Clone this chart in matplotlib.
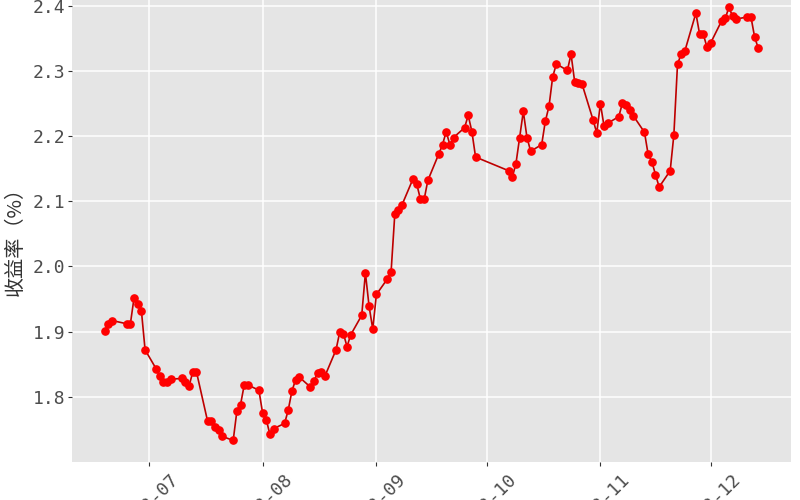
import matplotlib
matplotlib.use('Agg')
import matplotlib.pyplot as plt
import matplotlib.dates as mdates
import pandas as pd

dates = [
    "2023-06-19", "2023-06-20", "2023-06-21", "2023-06-25", "2023-06-26", "2023-06-27",
    "2023-06-28", "2023-06-29", "2023-06-30",
    "2023-07-03", "2023-07-04", "2023-07-05", "2023-07-06", "2023-07-07",
    "2023-07-10", "2023-07-11", "2023-07-12", "2023-07-13", "2023-07-14",
    "2023-07-17", "2023-07-18", "2023-07-19", "2023-07-20", "2023-07-21",
    "2023-07-24", "2023-07-25", "2023-07-26", "2023-07-27", "2023-07-28", "2023-07-31",
    "2023-08-01", "2023-08-02", "2023-08-03", "2023-08-04",
    "2023-08-07", "2023-08-08", "2023-08-09", "2023-08-10", "2023-08-11",
    "2023-08-14", "2023-08-15", "2023-08-16", "2023-08-17", "2023-08-18",
    "2023-08-21", "2023-08-22", "2023-08-23", "2023-08-24", "2023-08-25",
    "2023-08-28", "2023-08-29", "2023-08-30", "2023-08-31",
    "2023-09-01", "2023-09-04", "2023-09-05", "2023-09-06", "2023-09-07", "2023-09-08",
    "2023-09-11", "2023-09-12", "2023-09-13", "2023-09-14", "2023-09-15",
    "2023-09-18", "2023-09-19", "2023-09-20", "2023-09-21", "2023-09-22",
    "2023-09-25", "2023-09-26", "2023-09-27", "2023-09-28",
    "2023-10-07", "2023-10-08", "2023-10-09", "2023-10-10", "2023-10-11", "2023-10-12", "2023-10-13",
    "2023-10-16", "2023-10-17", "2023-10-18", "2023-10-19", "2023-10-20",
    "2023-10-23", "2023-10-24", "2023-10-25", "2023-10-26", "2023-10-27",
    "2023-10-30", "2023-10-31",
    "2023-11-01", "2023-11-02", "2023-11-03",
    "2023-11-06", "2023-11-07", "2023-11-08", "2023-11-09", "2023-11-10",
    "2023-11-13", "2023-11-14", "2023-11-15", "2023-11-16", "2023-11-17",
    "2023-11-20", "2023-11-21", "2023-11-22", "2023-11-23", "2023-11-24",
    "2023-11-27", "2023-11-28", "2023-11-29", "2023-11-30",
    "2023-12-01", "2023-12-04", "2023-12-05", "2023-12-06", "2023-12-07", "2023-12-08",
    "2023-12-11", "2023-12-12", "2023-12-13", "2023-12-14",
]

yields = [
    1.901, 1.912, 1.917, 1.912, 1.912, 1.952,
    1.942, 1.932, 1.872,
    1.843, 1.832, 1.823, 1.822, 1.827,
    1.828, 1.822, 1.817, 1.838, 1.838,
    1.763, 1.763, 1.754, 1.749, 1.739,
    1.733, 1.778, 1.788, 1.818, 1.818, 1.810,
    1.775, 1.765, 1.742, 1.751,
    1.759, 1.780, 1.809, 1.826, 1.830,
    1.815, 1.824, 1.837, 1.838, 1.832,
    1.872, 1.899, 1.897, 1.877, 1.895,
    1.925, 1.990, 1.939, 1.904,
    1.957, 1.981, 1.992, 2.080, 2.087, 2.095,
    2.135, 2.126, 2.103, 2.103, 2.132,
    2.173, 2.187, 2.207, 2.187, 2.198,
    2.213, 2.232, 2.207, 2.168,
    2.147, 2.137, 2.158, 2.198, 2.238, 2.198, 2.177,
    2.187, 2.223, 2.246, 2.291, 2.311,
    2.301, 2.326, 2.283, 2.282, 2.280,
    2.225, 2.205,
    2.250, 2.215, 2.220,
    2.230, 2.251, 2.248, 2.241, 2.231,
    2.206, 2.172, 2.161, 2.141, 2.122,
    2.147, 2.202, 2.311, 2.326, 2.331,
    2.389, 2.357, 2.357, 2.337,
    2.343, 2.377, 2.381, 2.398, 2.384, 2.380,
    2.383, 2.383, 2.352, 2.335,
]

y_ticks = [1.8, 1.9, 2.0, 2.1, 2.2, 2.3, 2.4]
y_label = "收益率（%）"

tick_font = "DejaVu Sans Mono"
cjk_fonts = ["Noto Sans CJK SC", "DejaVu Sans"]

fig = plt.figure(figsize=(8, 5), dpi=100)
ax = fig.add_axes([0.09, 0.076, 0.89875, 0.9528])
ax.set_facecolor("#E5E5E5")
for s in ax.spines.values():
    s.set_visible(False)
ax.grid(True, color="white", linewidth=1.1)
ax.set_axisbelow(True)

x = pd.to_datetime(dates)
ax.plot(x, yields, color="#BE0000", linewidth=1.2, zorder=3)
ax.plot(x, yields, linestyle="none", marker="o", markersize=5.2,
        markerfacecolor="#FF0000", markeredgecolor="#FF0000", zorder=4)
ax.margins(x=0.05, y=0.05)

ax.xaxis.set_major_locator(mdates.MonthLocator())
ax.xaxis.set_major_formatter(mdates.DateFormatter("%Y-%m"))
ax.set_yticks(y_ticks)
ax.set_yticklabels([f"{v:.1f}" for v in y_ticks])

ax.tick_params(axis="both", colors="#333333", length=3, width=0.8,
               labelcolor="#4D4D4D", labelsize=13)
ax.tick_params(axis="y", pad=2)
ax.tick_params(axis="x", pad=3)
for lab in ax.get_yticklabels():
    lab.set_fontfamily(tick_font)
for lab in ax.get_xticklabels():
    lab.set_fontfamily(tick_font)
    lab.set_rotation(45)
    lab.set_ha("center")
    lab.set_va("top")

ax.set_ylabel(y_label, family=cjk_fonts, fontsize=14.5, color="#333333")
ax.yaxis.set_label_coords(-0.064, 0.474)

fig.savefig("out.png", dpi=100)
